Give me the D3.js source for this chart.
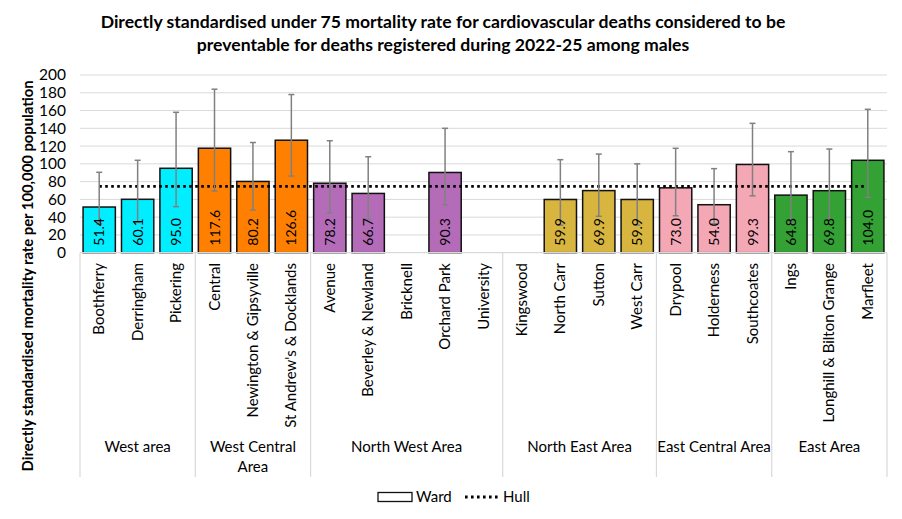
<!DOCTYPE html>
<html>
<head>
<meta charset="utf-8">
<script src="https://cdn.jsdelivr.net/npm/d3@7"></script>
<style>
  body { margin: 0; background: #fff; }
  svg { font-family: Lato, "Noto Sans", sans-serif; }
</style>
</head>
<body>
<div id="vis-holder"></div>
<script>
// Chart data
const wards = ["Boothferry", "Derringham", "Pickering", "Central", "Newington & Gipsyville",
  "St Andrew's & Docklands", "Avenue", "Beverley & Newland", "Bricknell", "Orchard Park",
  "University", "Kingswood", "North Carr", "Sutton", "West Carr", "Drypool", "Holderness",
  "Southcoates", "Ings", "Longhill & Bilton Grange", "Marfleet"];
const wardArea = ["West", "West", "West", "WC", "WC", "WC", "NW", "NW", "NW", "NW", "NW",
  "NE", "NE", "NE", "NE", "EC", "EC", "EC", "E", "E", "E"];
const rates = [51.4, 60.1, 95.0, 117.6, 80.2, 126.6, 78.2, 66.7, null, 90.3, null,
  null, 59.9, 69.9, 59.9, 73.0, 54.0, 99.3, 64.8, 69.8, 104.0];
const lowerCI = [32.3, 34, 51.8, 69.4, 48, 86.3, 44.7, 37.6, null, 54, null,
  null, 31, 41, 31, 41.6, 32.6, 64, 33, 37.6, 62.3];
const upperCI = [90.5, 104, 158, 184, 124, 178, 126, 108, null, 140, null,
  null, 104.7, 111, 100, 117.5, 94.6, 145.6, 113.7, 116.7, 161.4];
const hullRate = 74.7;
const areas = ["West", "WC", "NW", "NE", "EC", "E"];
const areaLabels = [["West area"], ["West Central", "Area"], ["North West Area"],
  ["North East Area"], ["East Central Area"], ["East Area"]];
const areaColors = ["#00EEFF", "#FF8000", "#B46CB8", "#D8B53E", "#F4A7B4", "#33A133"];
const yTicks = [0, 20, 40, 60, 80, 100, 120, 140, 160, 180, 200];

const width = 902, height = 519;
const margin = { top: 75, right: 15, bottom: 266.3, left: 80 };

const svg = d3.select("#vis-holder")
  .append("svg")
  .attr("width", width)
  .attr("height", height);

const color = d3.scaleOrdinal().domain(areas).range(areaColors);

const x = d3.scaleBand()
  .domain(d3.range(wards.length))
  .range([margin.left, width - margin.right])
  .paddingInner(0.16)
  .paddingOuter(0.08);

const y = d3.scaleLinear()
  .domain([0, 200])
  .range([height - margin.bottom, margin.top]);

const y0 = y(0);

// Title
svg.append("text")
  .attr("x", 443)
  .attr("text-anchor", "middle")
  .attr("font-weight", "bold")
  .attr("font-size", "17.6px")
  .selectAll("tspan")
  .data(["Directly standardised under 75 mortality rate for cardiovascular deaths considered to be",
         "preventable for deaths registered during 2022-25 among males"])
  .join("tspan")
    .attr("x", 443)
    .attr("y", (d, i) => 28 + i * 23)
    .text(d => d);

// Gridlines
svg.append("g")
  .selectAll("line")
  .data(yTicks.filter(t => t > 0))
  .join("line")
    .attr("x1", margin.left)
    .attr("x2", width - margin.right)
    .attr("y1", d => y(d))
    .attr("y2", d => y(d))
    .attr("stroke", "#d9d9d9")
    .attr("stroke-width", 1);

// Y axis labels
svg.append("g")
  .attr("transform", `translate(${margin.left}, 0)`)
  .call(d3.axisLeft(y).tickValues(yTicks).tickSize(0).tickPadding(14))
  .call(g => g.select(".domain").remove())
  .call(g => g.selectAll("text").attr("font-size", "15.5px").attr("fill", "#000")
    .attr("font-family", "Lato, 'Noto Sans', sans-serif"));

// Y axis title
svg.append("text")
  .attr("transform", `translate(33, 276) rotate(-90)`)
  .attr("text-anchor", "middle")
  .attr("font-weight", "bold")
  .attr("font-size", "14.8px")
  .text("Directly standardised mortality rate per 100,000 population");

// Bars
const idx = d3.range(wards.length).filter(i => rates[i] !== null);
svg.append("g")
  .selectAll("rect")
  .data(idx)
  .join("rect")
    .attr("x", i => x(i))
    .attr("y", i => y(rates[i]))
    .attr("width", x.bandwidth())
    .attr("height", i => y0 - y(rates[i]))
    .attr("fill", i => color(wardArea[i]))
    .attr("stroke", "#111")
    .attr("stroke-width", 1.5);

// Category axis line and separators
const sepX = [margin.left];
let pos = 0;
areas.forEach(a => {
  pos += wardArea.filter(w => w === a).length;
  sepX.push(margin.left + x.step() * pos);
});
svg.append("line")
  .attr("x1", margin.left).attr("x2", width - margin.right)
  .attr("y1", y0).attr("y2", y0)
  .attr("stroke", "#d9d9d9").attr("stroke-width", 1.2);
svg.append("g")
  .selectAll("line")
  .data(sepX)
  .join("line")
    .attr("x1", d => d).attr("x2", d => d)
    .attr("y1", y0).attr("y2", 477)
    .attr("stroke", "#d9d9d9").attr("stroke-width", 1.2);

// Hull line (dotted)
svg.append("line")
  .attr("x1", x(0) + x.bandwidth() / 2)
  .attr("x2", x(wards.length - 1) + x.bandwidth() / 2)
  .attr("y1", y(hullRate))
  .attr("y2", y(hullRate))
  .attr("stroke", "#000")
  .attr("stroke-width", 2.8)
  .attr("stroke-dasharray", "2.6,3.4");

// Error bars
const err = svg.append("g").attr("stroke", "#808080").attr("stroke-width", 1.5);
idx.forEach(i => {
  const cx = x(i) + x.bandwidth() / 2;
  err.append("line").attr("x1", cx).attr("x2", cx)
    .attr("y1", y(lowerCI[i])).attr("y2", y(upperCI[i]));
  [lowerCI[i], upperCI[i]].forEach(v => {
    err.append("line").attr("x1", cx - 3).attr("x2", cx + 3)
      .attr("y1", y(v)).attr("y2", y(v));
  });
});

// Value labels
svg.append("g")
  .selectAll("text")
  .data(idx)
  .join("text")
    .attr("transform", i => `translate(${x(i) + x.bandwidth() / 2 + 5}, ${y0 - 7}) rotate(-90)`)
    .attr("font-size", "14px")
    .text(i => rates[i].toFixed(1));

// Ward labels
svg.append("g")
  .selectAll("text")
  .data(d3.range(wards.length))
  .join("text")
    .attr("transform", i => `translate(${x(i) + x.bandwidth() / 2 + 5}, 263) rotate(-90)`)
    .attr("text-anchor", "end")
    .attr("font-size", "15px")
    .text(i => wards[i]);

// Area labels
areas.forEach((a, k) => {
  const cx = (sepX[k] + sepX[k + 1]) / 2;
  const t = svg.append("text")
    .attr("text-anchor", "middle")
    .attr("font-size", "15px");
  areaLabels[k].forEach((line, j) => {
    t.append("tspan").attr("x", cx).attr("y", 452 + j * 20).text(line);
  });
});

// Legend
const lg = svg.append("g");
lg.append("rect")
  .attr("x", 378).attr("y", 492.5).attr("width", 34).attr("height", 9)
  .attr("fill", "#fff").attr("stroke", "#111").attr("stroke-width", 1.3);
lg.append("text").attr("x", 416).attr("y", 502).attr("font-size", "15px").text("Ward");
lg.append("line")
  .attr("x1", 465).attr("x2", 499).attr("y1", 497).attr("y2", 497)
  .attr("stroke", "#000").attr("stroke-width", 2.8).attr("stroke-dasharray", "2.6,3.4");
lg.append("text").attr("x", 503).attr("y", 502).attr("font-size", "15px").text("Hull");
</script>
</body>
</html>
